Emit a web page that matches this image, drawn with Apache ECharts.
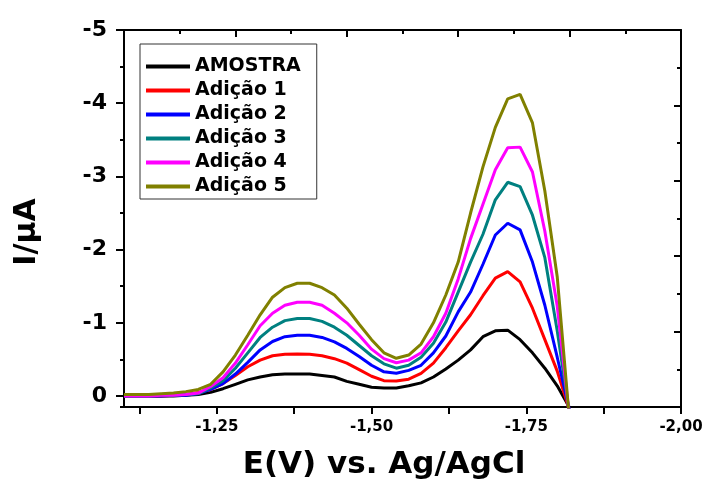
<!DOCTYPE html>
<html><head><meta charset="utf-8">
<script src="https://cdn.jsdelivr.net/npm/echarts@6/dist/echarts.min.js"></script>
<style>html,body{margin:0;padding:0;background:#fff}#c{width:708px;height:483px}</style>
</head><body><div id="c"></div>
<script>
// Potential E (V vs Ag/AgCl)
const potentials = [-1.10,-1.12,-1.14,-1.16,-1.18,-1.20,-1.22,-1.24,-1.26,-1.28,-1.30,-1.32,-1.34,-1.36,-1.38,-1.40,-1.42,-1.44,-1.46,-1.48,-1.50,-1.52,-1.54,-1.56,-1.58,-1.60,-1.62,-1.64,-1.66,-1.68,-1.70,-1.72,-1.74,-1.76,-1.78,-1.80,-1.82];
// Current I (µA)
const amostra = [0,0,0,0,0,-0.01,-0.02,-0.05,-0.10,-0.16,-0.22,-0.26,-0.29,-0.30,-0.30,-0.30,-0.28,-0.26,-0.20,-0.16,-0.12,-0.11,-0.11,-0.14,-0.18,-0.26,-0.37,-0.49,-0.63,-0.81,-0.89,-0.90,-0.77,-0.59,-0.38,-0.14,0.16];
const adicao1 = [0,0,0,0,-0.01,-0.02,-0.05,-0.09,-0.17,-0.28,-0.40,-0.49,-0.55,-0.57,-0.575,-0.57,-0.55,-0.51,-0.45,-0.36,-0.27,-0.21,-0.205,-0.23,-0.31,-0.45,-0.66,-0.89,-1.11,-1.37,-1.61,-1.70,-1.56,-1.20,-0.77,-0.34,0.2];
const adicao2 = [0,0,0,0,-0.01,-0.01,-0.035,-0.09,-0.17,-0.30,-0.46,-0.63,-0.745,-0.81,-0.83,-0.83,-0.80,-0.74,-0.65,-0.54,-0.42,-0.33,-0.31,-0.35,-0.42,-0.59,-0.82,-1.15,-1.42,-1.80,-2.20,-2.36,-2.27,-1.83,-1.24,-0.53,0.2];
const adicao3 = [0,0,0,-0.01,-0.01,-0.02,-0.03,-0.11,-0.21,-0.38,-0.59,-0.80,-0.94,-1.03,-1.06,-1.06,-1.02,-0.94,-0.83,-0.69,-0.55,-0.44,-0.38,-0.42,-0.53,-0.72,-1.01,-1.42,-1.83,-2.21,-2.68,-2.92,-2.86,-2.47,-1.89,-0.89,0.25];
const adicao4 = [0,0,0,-0.01,-0.01,-0.02,-0.04,-0.13,-0.25,-0.45,-0.70,-0.96,-1.13,-1.24,-1.28,-1.28,-1.24,-1.13,-1.00,-0.83,-0.64,-0.51,-0.455,-0.49,-0.59,-0.81,-1.13,-1.60,-2.15,-2.62,-3.09,-3.39,-3.40,-3.06,-2.25,-1.23,0.3];
const adicao5 = [-0.02,-0.02,-0.02,-0.03,-0.04,-0.06,-0.09,-0.16,-0.33,-0.56,-0.83,-1.11,-1.35,-1.48,-1.54,-1.54,-1.48,-1.38,-1.20,-0.98,-0.77,-0.59,-0.515,-0.56,-0.71,-1.00,-1.38,-1.83,-2.50,-3.13,-3.67,-4.06,-4.12,-3.73,-2.80,-1.63,0.35];

const seriesNames = ['AMOSTRA','Adição 1','Adição 2','Adição 3','Adição 4','Adição 5'];
const seriesColors = ['#000000','#ff0000','#0000ff','#008080','#ff00ff','#808000'];
const seriesValues = [amostra, adicao1, adicao2, adicao3, adicao4, adicao5];

const xTickValues = [-1.25,-1.50,-1.75,-2.00];
const xTickLabels = ['-1,25','-1,50','-1,75','-2,00'];
const yTickValues = [-5,-4,-3,-2,-1,0];
const yTickLabels = ['-5','-4','-3','-2','-1','0'];

const xTitle = 'E(V) vs. Ag/AgCl';
const yTitle = 'I/\u03bcA';

function pickLabel(vals, labels, v){
  for (let i=0;i<vals.length;i++){ if (Math.abs(vals[i]-v) < 1e-6) return labels[i]; }
  return '';
}

const FONT = 'DejaVu Sans';
const chart = echarts.init(document.getElementById('c'), null, {renderer:'canvas'});
const lineStyleAxis = {color:'#000', width:2};

const option = {
  animation:false,
  backgroundColor:'#fff',
  grid:{left:124, right:27, top:30, bottom:76, containLabel:false},
  legend:{
    orient:'vertical', left:140, top:44,
    data:seriesNames,
    icon:'rect', itemWidth:44, itemHeight:4, itemGap:5,
    padding:[13,16,3,6],
    borderColor:'#333', borderWidth:1, backgroundColor:'#fff',
    textStyle:{fontFamily:FONT, fontWeight:'bold', fontSize:19, color:'#000', lineHeight:18}
  },
  xAxis:[
    {type:'value', position:'bottom', min:-2.0, max:-1.1, inverse:true, interval:0.125,
     axisLine:{onZero:false, lineStyle:lineStyleAxis},
     axisTick:{inside:false, length:7, lineStyle:{color:'#000', width:2}},
     axisLabel:{margin:13, color:'#000', fontFamily:FONT, fontWeight:'bold', fontSize:15,
       showMaxLabel:false,
       formatter:function(v){return pickLabel(xTickValues, xTickLabels, v);}},
     splitLine:{show:false}},
    {type:'value', position:'top', min:0, max:10, interval:2,
     axisLine:{onZero:false, lineStyle:lineStyleAxis},
     axisTick:{inside:true, length:7, lineStyle:{color:'#000', width:2}},
     minorTick:{show:true, splitNumber:2, length:4, lineStyle:{color:'#000', width:2}},
     axisLabel:{show:false}, splitLine:{show:false}}
  ],
  yAxis:[
    {type:'value', position:'left', min:-5, max:0.15, inverse:true, interval:1,
     axisLine:{onZero:false, lineStyle:lineStyleAxis},
     axisTick:{inside:false, length:8, lineStyle:{color:'#000', width:2}},
     axisLabel:{margin:17, color:'#000', fontFamily:FONT, fontWeight:'bold', fontSize:22,
       showMaxLabel:false,
       formatter:function(v){return pickLabel(yTickValues, yTickLabels, v);}},
     splitLine:{show:false}},
    {type:'value', position:'left', min:-5, max:0.15, inverse:true, interval:0.5,
     axisLine:{show:false, onZero:false},
     axisTick:{inside:false, length:4, lineStyle:{color:'#000', width:2}},
     axisLabel:{show:false}, splitLine:{show:false}},
    {type:'value', position:'right', min:0, max:10, interval:2,
     axisLine:{onZero:false, lineStyle:lineStyleAxis},
     axisTick:{inside:true, length:7, lineStyle:{color:'#000', width:2}},
     minorTick:{show:true, splitNumber:2, length:4, lineStyle:{color:'#000', width:2}},
     axisLabel:{show:false}, splitLine:{show:false}}
  ],
  graphic:[
    {type:'text', x:384, y:465, style:{text:xTitle, fill:'#000',
      font:'bold 31px "DejaVu Sans"', textAlign:'center', textVerticalAlign:'middle'}},
    {type:'text', x:27, y:232, rotation:Math.PI/2, style:{text:yTitle, fill:'#000',
      font:'bold 30px "DejaVu Sans"', textAlign:'center', textVerticalAlign:'middle'}}
  ],
  series: seriesNames.map(function(name, i){
    return {
      name:name, type:'line', xAxisIndex:0, yAxisIndex:0,
      data: potentials.map(function(e, k){ return [e, seriesValues[i][k]]; }),
      showSymbol:false, symbol:'none', clip:true,
      lineStyle:{color:seriesColors[i], width:3},
      itemStyle:{color:seriesColors[i]},
      z: 2 + i
    };
  })
};
chart.setOption(option);
</script></body></html>
